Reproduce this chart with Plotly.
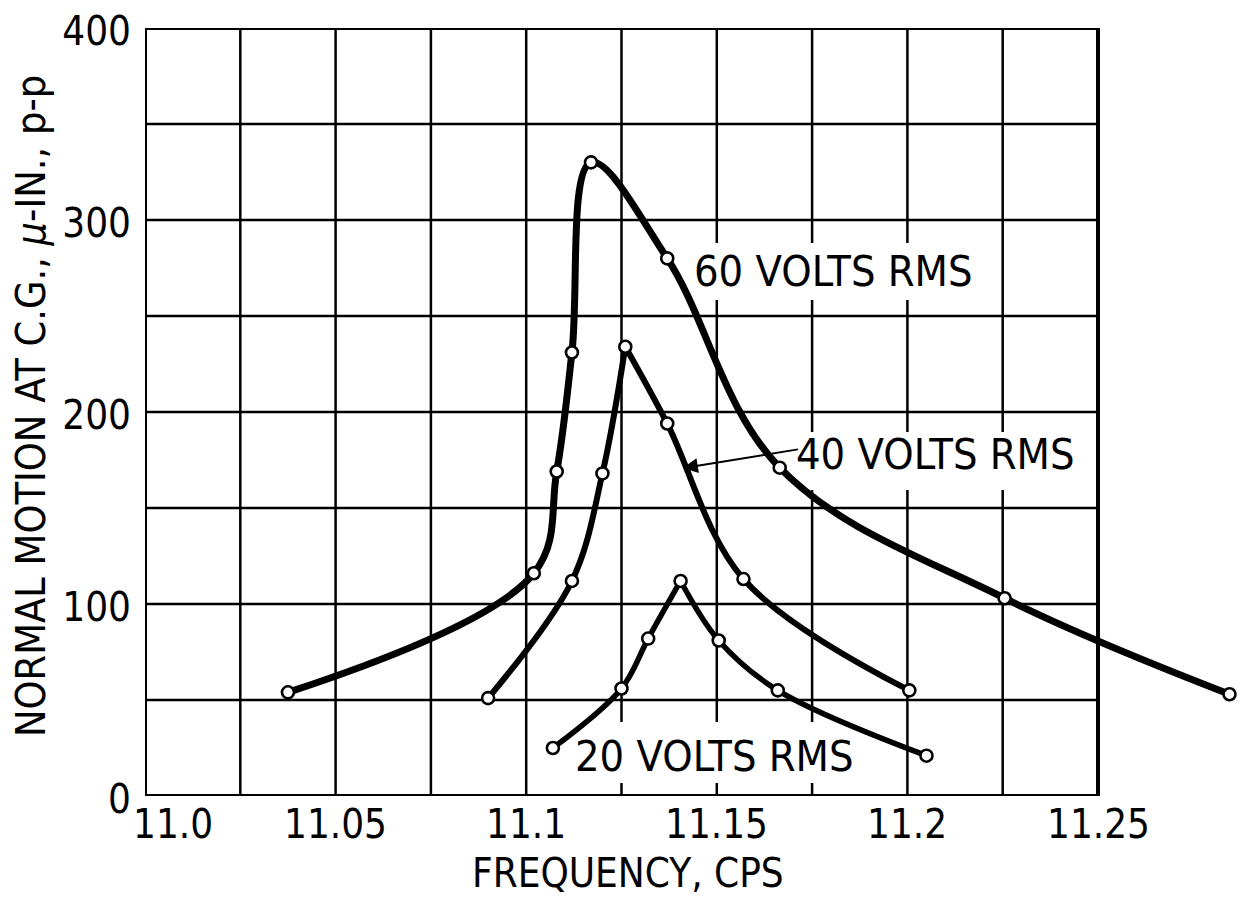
import plotly.graph_objects as go

# ---- data ----
freq_60 = [11.0375, 11.102, 11.108, 11.112, 11.117, 11.137, 11.1665, 11.2255, 11.2845]
amp_60 = [54, 116, 169, 231, 330, 280, 171, 103, 53]

freq_40 = [11.090, 11.112, 11.120, 11.126, 11.137, 11.157, 11.2005]
amp_40 = [51, 112, 168, 234, 194, 113, 55]

freq_20 = [11.107, 11.125, 11.132, 11.1405, 11.1505, 11.166, 11.205]
amp_20 = [25, 56, 82, 112, 81, 55, 21]

x_tick_vals = [11.0, 11.05, 11.1, 11.15, 11.2, 11.25]
x_tick_text = ["11.0", "11.05", "11.1", "11.15", "11.2", "11.25"]
y_tick_vals = [0, 100, 200, 300, 400]
y_tick_text = ["0", "100", "200", "300", "400"]
x_grid = [11.025, 11.05, 11.075, 11.1, 11.125, 11.15, 11.175, 11.2, 11.225]
y_grid = [50, 100, 150, 200, 250, 300, 350]

label_60 = "60 VOLTS RMS"
label_40 = "40 VOLTS RMS"
label_20 = "20 VOLTS RMS"
x_title = "FREQUENCY, CPS"
y_title = "NORMAL MOTION AT C.G., <i>\u03bc</i>-IN., p-p"

FONT = "Liberation Sans Narrow, DejaVu Sans Condensed, Arial Narrow, Roboto, sans-serif"
X0, X1, Y0, Y1 = 11.0, 11.25, 0, 400

fig = go.Figure()

def curve(xs, ys, w, smooth):
    fig.add_trace(go.Scatter(x=xs, y=ys, mode="lines", cliponaxis=False,
                             line=dict(color="black", width=w, shape="spline", smoothing=smooth),
                             hoverinfo="skip", showlegend=False))

# 60 V: one smooth curve
curve(freq_60, amp_60, 7.0, 1.05)
# 40 V and 20 V: two branches meeting at the peak (cusp)
for fx, ay, w in [(freq_40, amp_40, 6.0), (freq_20, amp_20, 5.5)]:
    k = ay.index(max(ay))
    curve(fx[:k + 1], ay[:k + 1], w, 1.0)
    curve(fx[k:], ay[k:], w, 1.0)

for fx, ay in [(freq_60, amp_60), (freq_40, amp_40), (freq_20, amp_20)]:
    fig.add_trace(go.Scatter(x=fx, y=ay, mode="markers", cliponaxis=False,
                             marker=dict(symbol="circle", size=12, color="white",
                                         line=dict(color="black", width=2.6)),
                             showlegend=False))

shapes = []
for gx in x_grid:
    shapes.append(dict(type="line", xref="x", yref="y", x0=gx, x1=gx, y0=Y0, y1=Y1,
                       line=dict(color="black", width=2.5), layer="below"))
for gy in y_grid:
    shapes.append(dict(type="line", xref="x", yref="y", x0=X0, x1=X1, y0=gy, y1=gy,
                       line=dict(color="black", width=2.5), layer="below"))
# white boxes behind the curve labels (break the grid lines)
for bx0, bx1, by0, by1 in [(11.1435, 11.2177, 258.3, 288.0),
                           (11.1718, 11.2440, 159.4, 189.6),
                           (11.1141, 11.1844, 6.8, 38.5)]:
    shapes.append(dict(type="rect", xref="x", yref="y", x0=bx0, x1=bx1, y0=by0, y1=by1,
                       fillcolor="white", line=dict(width=0), layer="below"))
shapes.append(dict(type="rect", xref="x", yref="y", x0=X0, x1=X1, y0=Y0, y1=Y1,
                   line=dict(color="black", width=4), layer="below"))

annotations = [
    dict(text=label_60, x=11.1805, y=273.4, xref="x", yref="y", showarrow=False,
         xanchor="center", yanchor="middle", font=dict(size=43)),
    dict(text=label_40, x=11.2075, y=178.1, xref="x", yref="y", showarrow=False,
         xanchor="center", yanchor="middle", font=dict(size=43)),
    # arrow from the 40 V label to its curve
    dict(text=" ", x=11.1411, y=170.8, ax=11.1718, ay=180.7, xref="x", yref="y",
         axref="x", ayref="y", showarrow=True, arrowhead=2, arrowsize=1.5, arrowwidth=2,
         arrowcolor="black", standoff=0, font=dict(size=4)),
    dict(text=label_20, x=11.1493, y=20.8, xref="x", yref="y", showarrow=False,
         xanchor="center", yanchor="middle", font=dict(size=43)),
    dict(text=x_title, x=11.1267, y=0, xref="x", yref="paper", yshift=-77,
         xanchor="center", yanchor="middle", showarrow=False, font=dict(size=40)),
    dict(text=y_title, x=0, y=0.5, xref="paper", yref="paper", xshift=-114, yshift=6,
         xanchor="center", yanchor="middle", textangle=-90, showarrow=False,
         font=dict(size=41)),
]
# x tick labels (the first one sits right of the corner, next to the y "0")
for i, (tv, tt) in enumerate(zip(x_tick_vals, x_tick_text)):
    annotations.append(dict(text=tt, x=tv, y=0, xref="x", yref="paper", yshift=-28,
                            xshift=28 if i == 0 else 0, xanchor="center", yanchor="middle",
                            showarrow=False, font=dict(size=40)))

fig.update_layout(
    width=1248, height=899,
    margin=dict(l=145, r=3, t=28, b=103),
    paper_bgcolor="white", plot_bgcolor="white",
    font=dict(family=FONT, color="black", size=40),
    shapes=shapes, annotations=annotations,
    showlegend=False,
    xaxis=dict(range=[X0, X0 + 1100 / 3812], showticklabels=False,
               showgrid=False, zeroline=False, showline=False, ticks=""),
    yaxis=dict(range=[Y0, Y1], tickvals=y_tick_vals, ticktext=y_tick_text,
               showgrid=False, zeroline=False, showline=False, ticks="",
               ticklabelstandoff=13, ticklabelshift=3, tickfont=dict(size=40)),
)

fig.write_html("out.html")
